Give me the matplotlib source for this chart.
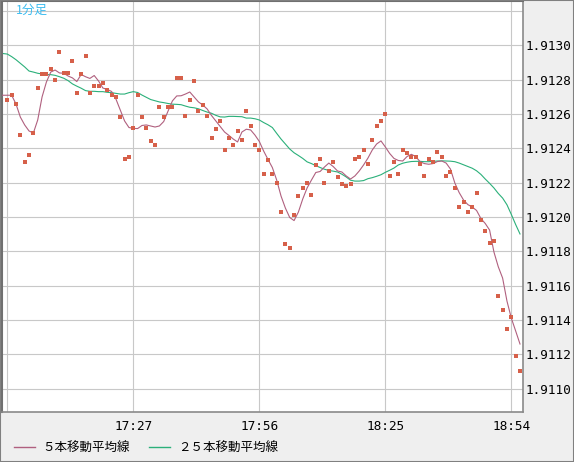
import numpy as np
import pandas as pd
import matplotlib
matplotlib.use("Agg")
import matplotlib.pyplot as plt
from matplotlib.patches import Rectangle

# 1-minute closes from 16:58
start = "16:58"
close = [1.91268, 1.91271, 1.91266, 1.91248, 1.91232, 1.91236, 1.91249, 1.91275, 1.91283, 1.91283,
         1.91286, 1.91280, 1.91296, 1.91284, 1.91284, 1.91291, 1.91272, 1.91283, 1.91294, 1.91272,
         1.91276, 1.91276, 1.91278, 1.91274, 1.91271, 1.91270, 1.91258, 1.91234, 1.91235, 1.91252,
         1.91271, 1.91258, 1.91252, 1.91244, 1.91242, 1.91264, 1.91258, 1.91264, 1.91264, 1.91281,
         1.91281, 1.91259, 1.91268, 1.91279, 1.91262, 1.91265, 1.91259, 1.91246, 1.91251, 1.91256,
         1.91239, 1.91246, 1.91242, 1.91250, 1.91245, 1.91262, 1.91253, 1.91242, 1.91239, 1.91225,
         1.91233, 1.91225, 1.91220, 1.91203, 1.91184, 1.91182, 1.91201, 1.91212, 1.91217, 1.91220,
         1.91213, 1.91230, 1.91234, 1.91220, 1.91227, 1.91232, 1.91223, 1.91219, 1.91218, 1.91219,
         1.91234, 1.91235, 1.91239, 1.91231, 1.91245, 1.91253, 1.91256, 1.91260, 1.91224, 1.91232,
         1.91225, 1.91239, 1.91237, 1.91235, 1.91235, 1.91231, 1.91224, 1.91234, 1.91232, 1.91238,
         1.91235, 1.91224, 1.91226, 1.91217, 1.91206, 1.91209, 1.91203, 1.91206, 1.91214, 1.91198,
         1.91192, 1.91185, 1.91186, 1.91154, 1.91146, 1.91135, 1.91142, 1.91119, 1.91110]

# moving averages as drawn, starting two minutes before the first close
ma_start = -2
ma5 = [1.912709, 1.912709, 1.912709, 1.912709, 1.912658, 1.912582, 1.912536, 1.912501, 1.912489, 1.912565,
       1.912699, 1.912786, 1.912844, 1.912856, 1.912839, 1.912837, 1.912821, 1.912810, 1.912789, 1.912830,
       1.912817, 1.912807, 1.912824, 1.912792, 1.912751, 1.912743, 1.912731, 1.912687, 1.912623, 1.912559,
       1.912521, 1.912516, 1.912515, 1.912533, 1.912536, 1.912530, 1.912524, 1.912530, 1.912556, 1.912617,
       1.912676, 1.912705, 1.912706, 1.912716, 1.912728, 1.912699, 1.912670, 1.912652, 1.912629, 1.912591,
       1.912559, 1.912527, 1.912495, 1.912475, 1.912454, 1.912437, 1.912495, 1.912511, 1.912507, 1.912477,
       1.912440, 1.912384, 1.912335, 1.912288, 1.912215, 1.912122, 1.912052, 1.911997, 1.911979, 1.912029,
       1.912105, 1.912169, 1.912215, 1.912259, 1.912265, 1.912291, 1.912314, 1.912294, 1.912268, 1.912262,
       1.912239, 1.912221, 1.912239, 1.912268, 1.912303, 1.912343, 1.912390, 1.912425, 1.912443, 1.912408,
       1.912370, 1.912341, 1.912329, 1.912326, 1.912352, 1.912365, 1.912352, 1.912322, 1.912311, 1.912307,
       1.912311, 1.912323, 1.912326, 1.912314, 1.912279, 1.912198, 1.912142, 1.912099, 1.912072, 1.912058,
       1.912038, 1.911991, 1.911962, 1.911924, 1.911796, 1.911710, 1.911644, 1.911510, 1.911411, 1.911336,
       1.911260]
ma25 = [1.912955, 1.912952, 1.912949, 1.912934, 1.912916, 1.912895, 1.912874, 1.912850, 1.912844, 1.912837,
        1.912833, 1.912829, 1.912829, 1.912825, 1.912817, 1.912808, 1.912794, 1.912775, 1.912762, 1.912750,
        1.912736, 1.912732, 1.912732, 1.912730, 1.912730, 1.912726, 1.912724, 1.912720, 1.912716, 1.912716,
        1.912724, 1.912730, 1.912725, 1.912710, 1.912697, 1.912684, 1.912677, 1.912670, 1.912666, 1.912661,
        1.912657, 1.912656, 1.912654, 1.912646, 1.912639, 1.912636, 1.912630, 1.912620, 1.912611, 1.912604,
        1.912592, 1.912583, 1.912582, 1.912586, 1.912586, 1.912585, 1.912584, 1.912576, 1.912576, 1.912572,
        1.912565, 1.912550, 1.912537, 1.912521, 1.912487, 1.912454, 1.912425, 1.912396, 1.912374, 1.912358,
        1.912341, 1.912321, 1.912311, 1.912299, 1.912288, 1.912278, 1.912271, 1.912267, 1.912262, 1.912249,
        1.912233, 1.912214, 1.912209, 1.912209, 1.912212, 1.912223, 1.912229, 1.912237, 1.912246, 1.912260,
        1.912272, 1.912285, 1.912303, 1.912313, 1.912319, 1.912323, 1.912324, 1.912324, 1.912322, 1.912322,
        1.912324, 1.912326, 1.912327, 1.912326, 1.912325, 1.912322, 1.912314, 1.912304, 1.912294, 1.912284,
        1.912269, 1.912248, 1.912221, 1.912196, 1.912169, 1.912137, 1.912110, 1.912071, 1.912015, 1.911956,
        1.911901]

grid_times = ["16:58", "17:27", "17:56", "18:25", "18:54"]
tick_labels = ["17:27", "17:56", "18:25", "18:54"]
price_ticks = [1.9110, 1.9112, 1.9114, 1.9116, 1.9118, 1.9120, 1.9122, 1.9124, 1.9126, 1.9128, 1.9130, 1.9132]
legend_labels = ["５本移動平均線", "２５本移動平均線"]
title = "1分足"

times = list(pd.date_range(start, periods=len(close), freq="min").strftime("%H:%M"))
x = np.arange(len(close))
xm = np.arange(len(ma5)) + ma_start

W, H = 574, 462
fig = plt.figure(figsize=(W / 100, H / 100), dpi=100, facecolor="#efefef")
ax = fig.add_axes([2 / W, 1 - 412 / H, 521 / W, 411 / H])
ax.set_facecolor("white")

l1, = ax.plot(xm, ma5, color="#b0607f", lw=0.8, zorder=3)
l2, = ax.plot(xm, ma25, color="#2bb07a", lw=0.8, zorder=2)
ax.plot(x, close, ls="none", marker="s", ms=2.4, mew=0, color="#d6604a", zorder=4)

ax.set_xlim(-1.22, 118.69)
ax.set_ylim(1.910864, 1.913258)

ax.set_xticks([times.index(t) for t in grid_times])
ax.set_xticklabels([t if t in tick_labels else "" for t in grid_times], family="DejaVu Sans Mono", fontsize=9.2)
ax.set_yticks(price_ticks)
ax.set_yticklabels([f"{p:.4f}" if p < 1.9131 else "" for p in price_ticks], family="DejaVu Sans Mono", fontsize=9.2)
ax.yaxis.tick_right()
ax.tick_params(axis="y", length=0, pad=2)
ax.tick_params(axis="x", length=0, pad=5.5)
ax.grid(True, color="#c8c8c8", lw=0.8, zorder=0)
ax.set_axisbelow(True)

for s in ["left", "top"]:
    ax.spines[s].set_color("#707070")
    ax.spines[s].set_linewidth(1.5)
for s in ["right", "bottom"]:
    ax.spines[s].set_color("#8a8a8a")
    ax.spines[s].set_linewidth(1.2)

ax.text(14 / 521, 1 - 9.5 / 411, title, transform=ax.transAxes, color="#3cbcf0", fontsize=9,
        family=["Noto Sans CJK JP", "DejaVu Sans"], va="center", ha="left")

leg = fig.legend([l1, l2], legend_labels, loc="center left", bbox_to_anchor=(14 / W, 1 - 448 / H), ncol=2,
                 frameon=False, borderpad=0, borderaxespad=0, handlelength=1.7, handletextpad=0.6,
                 columnspacing=1.5, prop={"family": ["Noto Sans CJK JP", "DejaVu Sans"], "size": 9})
for h in leg.get_lines():
    h.set_linewidth(1.0)

fig.patches.append(Rectangle((0, 0), 1, 1, transform=fig.transFigure, fill=False,
                             edgecolor="#808080", lw=1.5))

fig.savefig("out.png", dpi=100, facecolor=fig.get_facecolor())
